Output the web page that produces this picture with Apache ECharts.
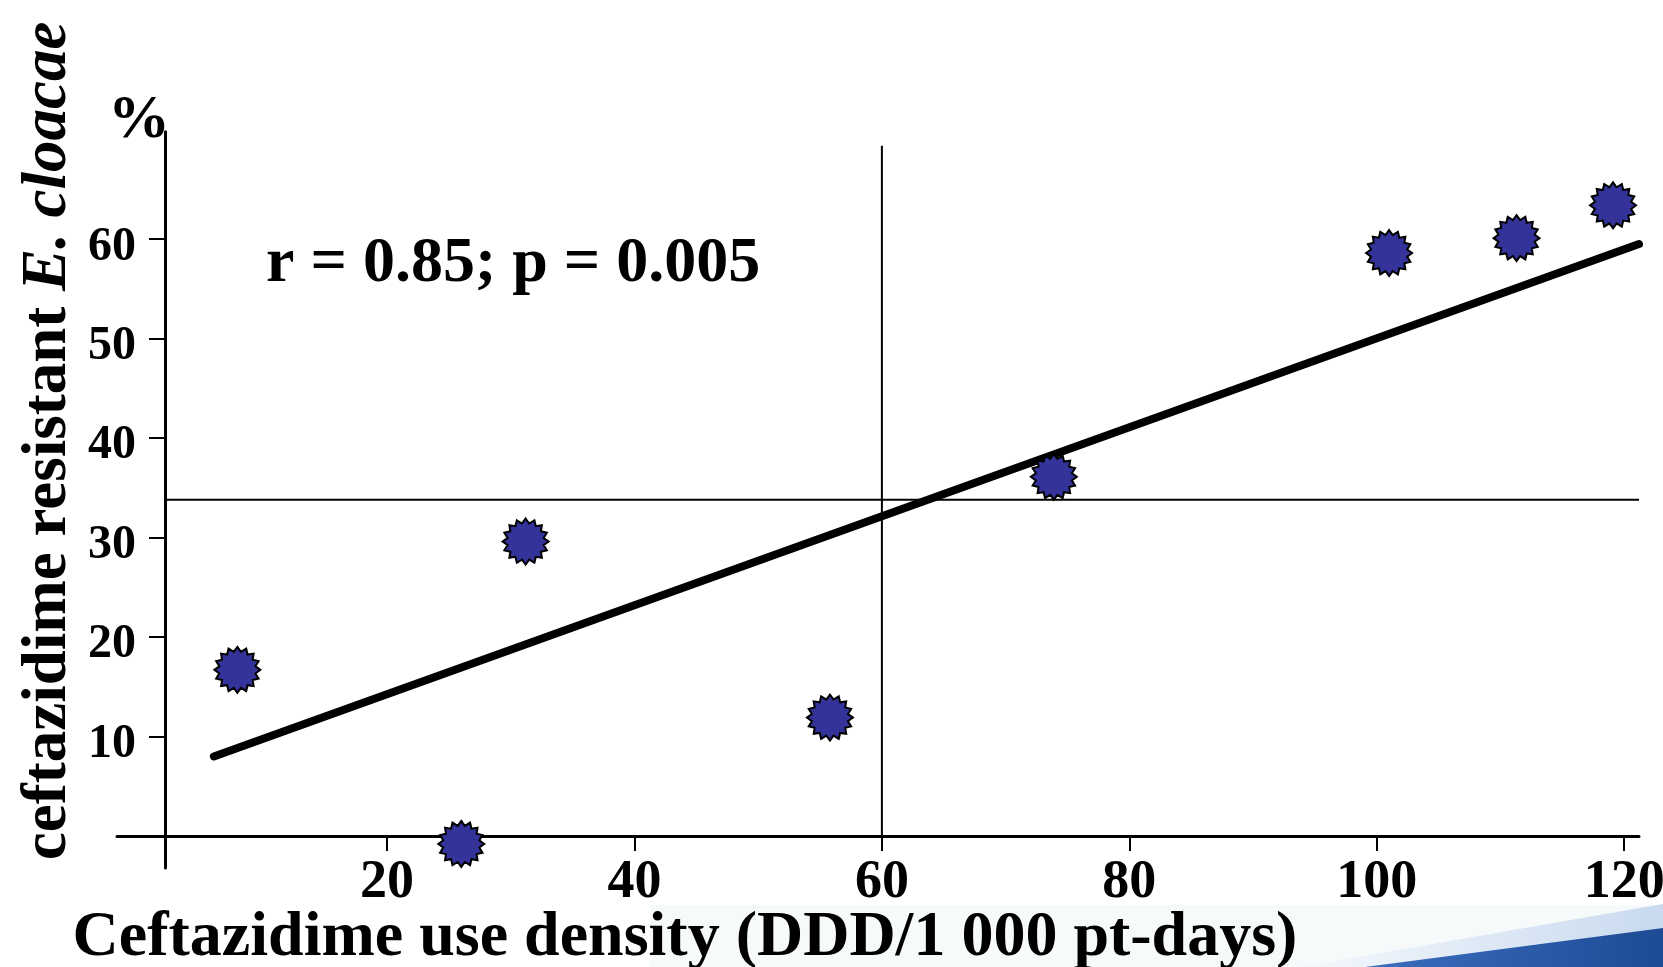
<!DOCTYPE html>
<html>
<head>
<meta charset="utf-8">
<script src="https://cdn.jsdelivr.net/npm/echarts@6/dist/echarts.min.js"></script>
<style>
html,body{margin:0;padding:0;background:#fff;}
#chart{width:1663px;height:967px;}
</style>
</head>
<body>
<div id="chart"></div>
<script>
// ---- data ----
const useDensity   = [7.9, 26.0, 31.2, 55.8, 73.9, 101.0, 111.3, 119.1];   // DDD/1 000 pt-days
const resistantPct = [16.7, -0.8, 29.6, 11.9, 36.1, 58.6, 60.1, 63.4];     // % resistant E. cloacae
const regressionX  = [6.0, 121.2];
const regressionY  = [8.0, 59.5];
const meanUseX     = [60, 60];
const meanUseY     = [0, 69.4];
const meanResX     = [2.05, 121.2];
const meanResY     = [33.8, 33.8];
const xTicks       = [20, 40, 60, 80, 100, 120];
const yTicks       = [10, 20, 30, 40, 50, 60];
const statText     = 'r = 0.85; p = 0.005';

const FONT = '"Liberation Serif", "Times New Roman", serif';

function pairs(xs, ys){ return xs.map((x,i)=>[x, ys[i]]); }

function starPath(n, rOut, rIn){
  let d = '';
  for (let i = 0; i < 2*n; i++){
    const r = (i % 2) ? rIn : rOut;
    const a = Math.PI * i / n - Math.PI/2;
    d += (i ? 'L' : 'M') + (50 + r*Math.cos(a)).toFixed(2) + ',' + (50 + r*Math.sin(a)).toFixed(2) + ' ';
  }
  return 'path://' + d + 'Z';
}

const chart = echarts.init(document.getElementById('chart'), null, {renderer:'canvas'});

const option = {
  backgroundColor: '#ffffff',
  animation: false,
  title: [
    {text: statText, left: 266, top: 232, padding: 0,
     textStyle: {fontFamily: FONT, fontWeight: 'bold', fontSize: 64, color: '#000'}},
    {text: '%', left: 108, top: 90, padding: 0,
     textStyle: {fontFamily: FONT, fontWeight: 'bold', fontSize: 62, color: '#000'}}
  ],
  graphic: [
    {type: 'rect', z: -10, shape: {x: 650, y: 905, width: 1013, height: 62},
     style: {fill: '#f6fafa'}},
    {type: 'polygon', z: -6,
     shape: {points: [[1300, 967], [1663, 904], [1663, 930], [1370, 967]]},
     style: {fill: new echarts.graphic.LinearGradient(0, 0, 1, 0, [
        {offset: 0, color: '#f4f8fc'}, {offset: 1, color: '#c9daef'}])}},
    {type: 'polygon', z: -5,
     shape: {points: [[1365, 967], [1663, 928], [1663, 967]]},
     style: {fill: new echarts.graphic.LinearGradient(0, 0, 1, 1, [
        {offset: 0, color: '#3d6fc0'}, {offset: 1, color: '#1d4a94'}])}}
  ],
  grid: {left: 117, top: 131.7, width: 1522, height: 736.3,
         containLabel: false, outerBoundsMode: 'none'},
  xAxis: [
    {type: 'value', min: -1.83, max: 121.2,
     name: 'Ceftazidime use density (DDD/1 000 pt-days)',
     nameLocation: 'middle', nameGap: 38, nameMoveOverlap: false,
     nameTextStyle: {fontFamily: FONT, fontWeight: 'bold', fontSize: 64, color: '#000',
                     padding: [0, 386, 0, 0]},
     axisLine: {show: true, onZero: true, lineStyle: {color: '#000', width: 3}},
     axisTick: {show: true, inside: false, length: 15, customValues: xTicks,
                lineStyle: {color: '#000', width: 2}},
     axisLabel: {show: true, customValues: xTicks, margin: -12,
                 fontFamily: FONT, fontWeight: 'bold', fontSize: 54, color: '#000'},
     splitLine: {show: false}},
    {type: 'value', min: -3.88, max: 119.15, show: false}
  ],
  yAxis: [
    {type: 'value', min: -3.22, max: 70.8,
     name: '{n|ceftazidime resistant }{i|E. cloacae}',
     nameLocation: 'middle', nameRotate: 90, nameGap: 37, nameMoveOverlap: false,
     nameTextStyle: {padding: [0, 0, 0, 118],
       rich: {
         n: {fontFamily: FONT, fontWeight: 'bold', fontSize: 63, color: '#000'},
         i: {fontFamily: FONT, fontWeight: 'bold', fontStyle: 'italic', fontSize: 63, color: '#000'}
       }},
     axisLine: {show: true, onZero: true, onZeroAxisIndex: 1, lineStyle: {color: '#000', width: 3}},
     axisTick: {show: true, inside: false, length: 16, customValues: yTicks,
                lineStyle: {color: '#000', width: 2}},
     axisLabel: {show: true, customValues: yTicks, margin: -19,
                 fontFamily: FONT, fontWeight: 'bold', fontSize: 48, color: '#000',
                 verticalAlign: 'top', lineHeight: 16},
     splitLine: {show: false}}
  ],
  series: [
    {type: 'line', name: 'mean use', data: pairs(meanUseX, meanUseY), showSymbol: false,
     symbol: 'none', clip: false, lineStyle: {color: '#000', width: 2}, z: 2, silent: true},
    {type: 'line', name: 'mean resistance', data: pairs(meanResX, meanResY), showSymbol: false,
     symbol: 'none', clip: false, lineStyle: {color: '#000', width: 2}, z: 2, silent: true},
    {type: 'line', name: 'regression', data: pairs(regressionX, regressionY), showSymbol: false,
     symbol: 'none', clip: false, lineStyle: {color: '#000', width: 8, cap: 'round'}, z: 3, silent: true},
    {type: 'scatter', name: 'hospitals', data: pairs(useDensity, resistantPct),
     symbol: starPath(16, 50, 40), symbolSize: 46, clip: false, z: 4,
     itemStyle: {color: '#333399', borderColor: '#000', borderWidth: 2, opacity: 1}}
  ]
};
chart.setOption(option);
</script>
</body>
</html>
